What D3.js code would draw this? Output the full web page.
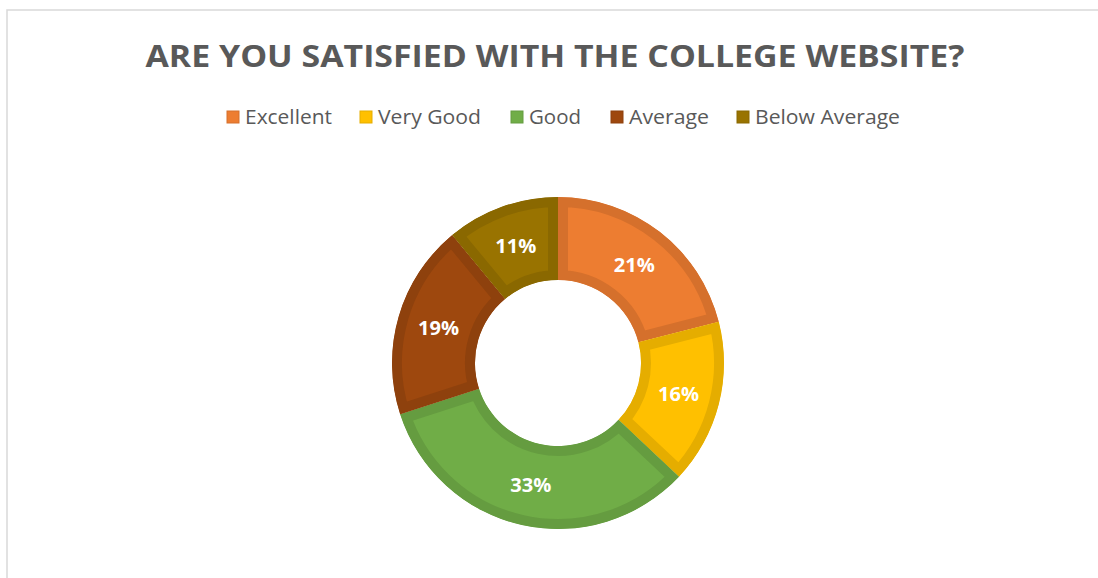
<!DOCTYPE html>
<html>
<head>
<meta charset="utf-8">
<script src="https://cdn.jsdelivr.net/npm/d3@7"></script>
<style>
  body { margin: 0; background: #fff; }
  svg { display: block; }
</style>
</head>
<body>
<div id="chart"></div>
<script>
// chart data
var categories = ["Excellent", "Very Good", "Good", "Average", "Below Average"];
var values = [21, 16, 33, 19, 11];
var fillColors = ["#ED7D31", "#FFC000", "#70AD47", "#9E480E", "#997300"];
var edgeColors = ["#D5702C", "#E5AD00", "#659C40", "#8E410D", "#8A6800"];
var title = "ARE YOU SATISFIED WITH THE COLLEGE WEBSITE?";

var width = 1098, height = 578;
var cx = 558, cy = 363,
    outerR = 166, innerR = 83;

var svg = d3.select("#chart").append("svg")
    .attr("width", width)
    .attr("height", height);

// chart area border (runs off the right and bottom of the picture)
svg.append("rect")
    .attr("x", 7)
    .attr("y", 10)
    .attr("width", width + 20)
    .attr("height", height + 20)
    .attr("fill", "#fff")
    .attr("stroke", "#d9d9d9")
    .attr("stroke-width", 1.5);

// title
svg.append("text")
    .attr("x", 555)
    .attr("y", 67)
    .attr("text-anchor", "middle")
    .attr("textLength", 819)
    .attr("lengthAdjust", "spacingAndGlyphs")
    .style("font-family", "'Open Sans', sans-serif")
    .style("font-weight", "bold")
    .style("font-size", "30px")
    .style("fill", "#595959")
    .text(title);

// legend
var legendX = [227, 360, 511, 611, 737];
var legendW = [87, 103, 52, 80, 145];
var legend = svg.selectAll("g.legend")
    .data(categories)
    .enter().append("g")
    .attr("class", "legend")
    .attr("transform", function(d, i) { return "translate(" + legendX[i] + ",111)"; });

legend.append("rect")
    .attr("width", 12)
    .attr("height", 12)
    .attr("fill", function(d, i) { return fillColors[i]; })
    .attr("stroke", function(d, i) { return edgeColors[i]; })
    .attr("stroke-width", 1);

legend.append("text")
    .attr("x", 18)
    .attr("y", 13)
    .attr("textLength", function(d, i) { return legendW[i]; })
    .attr("lengthAdjust", "spacingAndGlyphs")
    .style("font-family", "'Open Sans', sans-serif")
    .style("font-size", "20px")
    .style("fill", "#595959")
    .text(function(d) { return d; });

// donut
var pie = d3.pie()
    .sort(null)
    .value(function(d) { return d; });

var arc = d3.arc()
    .innerRadius(innerR)
    .outerRadius(outerR);

var arcs = pie(values);

var g = svg.append("g")
    .attr("transform", "translate(" + cx + "," + cy + ")");

// clip paths so the darker edge sits inside each slice
var defs = svg.append("defs");
defs.selectAll("clipPath")
    .data(arcs)
    .enter().append("clipPath")
    .attr("id", function(d, i) { return "slice" + i; })
    .append("path")
    .attr("d", arc);

g.selectAll("path.slice")
    .data(arcs)
    .enter().append("path")
    .attr("class", "slice")
    .attr("d", arc)
    .attr("fill", function(d, i) { return fillColors[i]; })
    .attr("stroke", function(d, i) { return edgeColors[i]; })
    .attr("stroke-width", 20)
    .attr("stroke-linejoin", "miter")
    .attr("clip-path", function(d, i) { return "url(#slice" + i + ")"; });

// data labels
g.selectAll("text.label")
    .data(arcs)
    .enter().append("text")
    .attr("class", "label")
    .attr("transform", function(d) {
        var c = arc.centroid(d);
        return "translate(" + c[0] + "," + c[1] + ")";
    })
    .attr("text-anchor", "middle")
    .attr("dy", "0.36em")
    .attr("textLength", 41)
    .attr("lengthAdjust", "spacingAndGlyphs")
    .style("font-family", "'Open Sans', sans-serif")
    .style("font-weight", "bold")
    .style("font-size", "20px")
    .style("fill", "#fff")
    .text(function(d) { return d.data + "%"; });
</script>
</body>
</html>
